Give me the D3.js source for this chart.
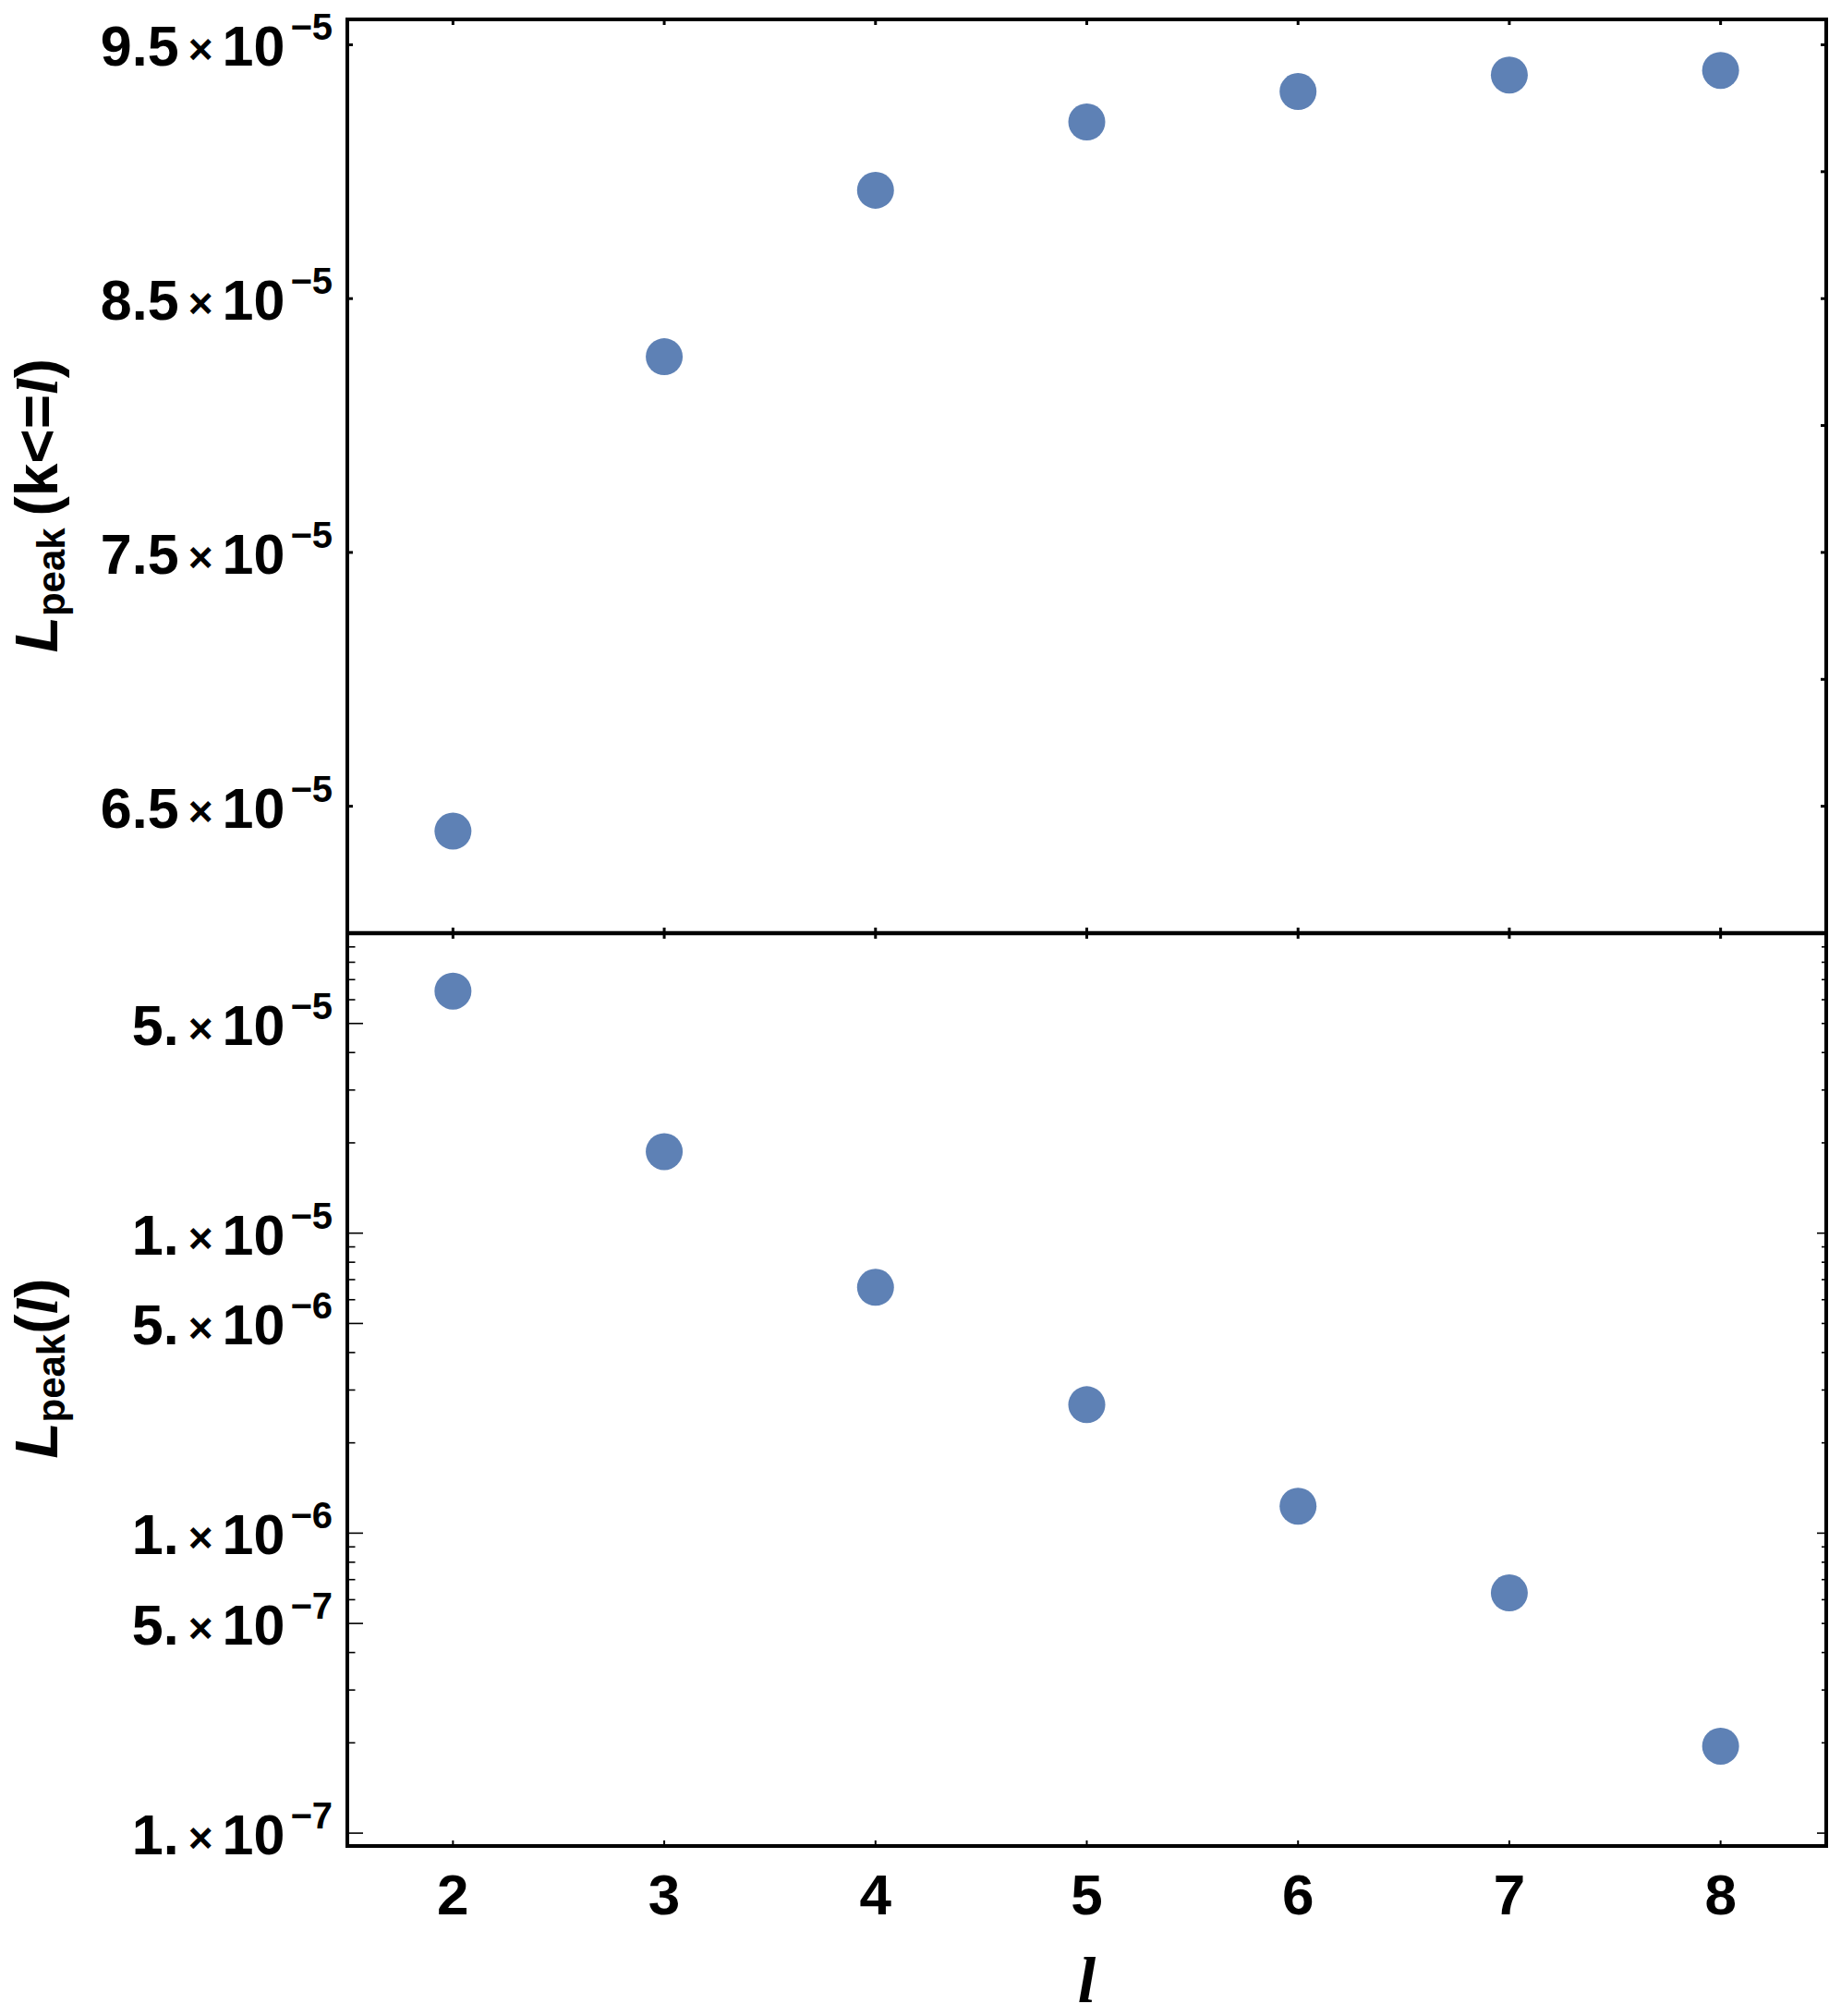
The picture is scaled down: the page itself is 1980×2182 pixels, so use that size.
<!DOCTYPE html>
<html>
<head>
<meta charset="utf-8">
<script src="https://cdn.jsdelivr.net/npm/d3@7"></script>
<style>
  html, body { margin: 0; padding: 0; background: #fff; }
  svg { display: block; }
</style>
</head>
<body>
<script>
// ---- data ----
const ells = [2, 3, 4, 5, 6, 7, 8];
const cumPeak = [6.402e-5, 8.271e-5, 8.927e-5, 9.196e-5, 9.316e-5, 9.381e-5, 9.399e-5];
const peak = [6.41e-5, 1.87e-5, 6.60e-6, 2.68e-6, 1.23e-6, 6.32e-7, 1.95e-7];
const topTicks = [6.5e-5, 7.5e-5, 8.5e-5, 9.5e-5];
const topTickLabels = [["6.5", "-5"], ["7.5", "-5"], ["8.5", "-5"], ["9.5", "-5"]];
const botTicks = [1e-7, 5e-7, 1e-6, 5e-6, 1e-5, 5e-5];
const botTickLabels = [["1.", "-7"], ["5.", "-7"], ["1.", "-6"], ["5.", "-6"], ["1.", "-5"], ["5.", "-5"]];
const xTickLabels = ["2", "3", "4", "5", "6", "7", "8"];

(function () {
const W = 1980, H = 2182;
const pL = 376, pR = 1977, pT = 21, pM = 1010, pB = 1998;
const dotColor = "#5E81B5";
const sans = "'Liberation Sans', Arial, sans-serif";
const serif = "'Liberation Serif', 'Times New Roman', serif";

const svg = d3.select("body").append("svg").attr("width", W).attr("height", H)
  .attr("viewBox", `0 0 ${W} ${H}`);
svg.append("rect").attr("width", W).attr("height", H).attr("fill", "#fff");

const x = d3.scaleLinear().domain([1.5, 8.5]).range([pL, pR]);
const yTop = d3.scaleLinear().domain([6.0e-5, 9.6e-5]).range([pM, pT]);
const yBot = d3.scaleLog().domain([9.06e-8, 1e-4]).range([pB, pM]);

// ---- ticks ----
const tickG = svg.append("g").attr("stroke", "#000");

ells.forEach(v => {
  const px = x(v);
  tickG.append("line").attr("x1", px).attr("x2", px).attr("y1", pT).attr("y2", pT + 6).attr("stroke-width", 3);
  tickG.append("line").attr("x1", px).attr("x2", px).attr("y1", pM - 6).attr("y2", pM + 6).attr("stroke-width", 3);
  tickG.append("line").attr("x1", px).attr("x2", px).attr("y1", pB - 6).attr("y2", pB).attr("stroke-width", 2);
});

topTicks.forEach(v => {
  tickG.append("line").attr("x1", pL).attr("x2", pL + 6).attr("y1", yTop(v)).attr("y2", yTop(v)).attr("stroke-width", 3);
});
[6.5e-5, 7.0e-5, 7.5e-5, 8.0e-5, 8.5e-5, 9.0e-5, 9.5e-5].forEach(v => {
  tickG.append("line").attr("x1", pR - 6).attr("x2", pR).attr("y1", yTop(v)).attr("y2", yTop(v)).attr("stroke-width", 3);
});

const logTicks = [];
[-8, -7, -6, -5].forEach(e => {
  for (let m = 1; m <= 9; m++) {
    const v = m * Math.pow(10, e);
    if (v >= 9.06e-8 && v <= 1e-4) logTicks.push({v, m});
  }
});
logTicks.forEach(t => {
  const major = (t.m === 1 || t.m === 5);
  const len = major ? 17 : 8.5;
  tickG.append("line").attr("x1", pL).attr("x2", pL + len)
    .attr("y1", yBot(t.v)).attr("y2", yBot(t.v)).attr("stroke-width", 1.6);
  const rlen = t.m === 1 ? 10 : 5;
  tickG.append("line").attr("x1", pR - rlen).attr("x2", pR)
    .attr("y1", yBot(t.v)).attr("y2", yBot(t.v)).attr("stroke-width", 1.6);
});

// ---- frames ----
svg.append("rect").attr("x", pL).attr("y", pT).attr("width", pR - pL).attr("height", pB - pT)
  .attr("fill", "none").attr("stroke", "#000").attr("stroke-width", 4);
svg.append("line").attr("x1", pL).attr("x2", pR).attr("y1", pM).attr("y2", pM)
  .attr("stroke", "#000").attr("stroke-width", 4.5);

// ---- tick labels ----
function sciLabel(g, y, mant, exp) {
  const t = g.append("text").attr("x", 360).attr("y", y + 23)
    .attr("text-anchor", "end").attr("font-family", sans).attr("font-weight", "bold")
    .attr("font-size", 61).attr("fill", "#000");
  t.append("tspan").text(mant);
  t.append("tspan").attr("font-size", 46).attr("dx", 10).attr("dy", -2).text("\u00D7");
  t.append("tspan").attr("font-size", 61).attr("dx", 10).attr("dy", 2).text("10");
  t.append("tspan").attr("font-size", 40).attr("dx", 6).attr("dy", -28).text(exp.replace("-", "\u2212"));
}
const labG = svg.append("g");
topTicks.forEach((v, i) => sciLabel(labG, yTop(v), topTickLabels[i][0], topTickLabels[i][1]));
botTicks.forEach((v, i) => sciLabel(labG, yBot(v), botTickLabels[i][0], botTickLabels[i][1]));

ells.forEach((v, i) => {
  labG.append("text").attr("x", x(v)).attr("y", 2072).attr("text-anchor", "middle")
    .attr("font-family", sans).attr("font-weight", "bold").attr("font-size", 62).text(xTickLabels[i]);
});

// ---- axis titles ----
svg.append("text").attr("x", x(5)).attr("y", 2167).attr("text-anchor", "middle")
  .attr("font-family", serif).attr("font-style", "italic").attr("font-weight", "bold")
  .attr("font-size", 70).text("l");

function yTitle(cy, parts) {
  const t = svg.append("text").attr("transform", `translate(62,${cy}) rotate(-90)`)
    .attr("text-anchor", "middle").attr("font-family", sans).attr("font-weight", "bold")
    .attr("font-size", 64).attr("fill", "#000");
  t.append("tspan").attr("font-style", "italic").text("L");
  t.append("tspan").attr("font-size", 42).attr("dy", 8).text("peak");
  parts.forEach((p, i) => {
    const s = t.append("tspan").text(p.t);
    if (i === 0) s.attr("dy", -8);
    if (p.it) s.attr("font-family", serif).attr("font-style", "italic").attr("font-size", 64);
  });
}
yTitle(547, [{t: "\u2009(k<="}, {t: "l", it: true}, {t: ")"}]);
yTitle(1481, [{t: "("}, {t: "l", it: true}, {t: ")"}]);

// ---- points ----
svg.append("g").selectAll("circle").data(ells).join("circle")
  .attr("cx", d => x(d)).attr("cy", (d, i) => yTop(cumPeak[i])).attr("r", 20).attr("fill", dotColor);
svg.append("g").selectAll("circle").data(ells).join("circle")
  .attr("cx", d => x(d)).attr("cy", (d, i) => yBot(peak[i])).attr("r", 20).attr("fill", dotColor);
})();
</script>
</body>
</html>
